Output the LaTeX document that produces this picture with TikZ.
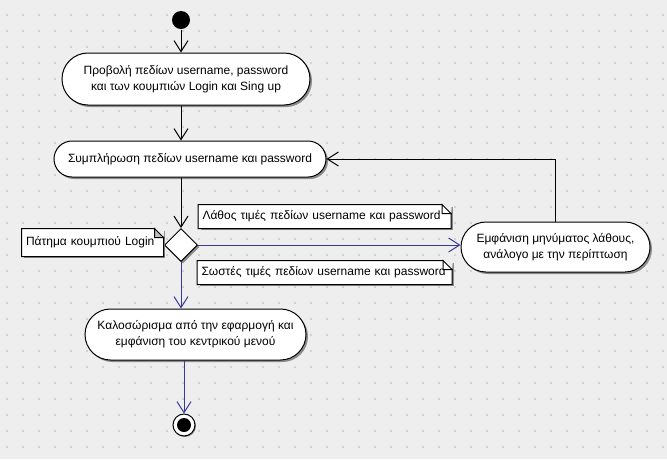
\documentclass[tikz,border=0pt]{standalone}
\usepackage{fontspec}
\setmainfont{Liberation Sans}
\usetikzlibrary{shapes.geometric,shapes.misc,arrows.meta,shadows}
\definecolor{flowblue}{RGB}{58,58,150}
\definecolor{canvas}{RGB}{238,238,238}
\definecolor{dotgray}{RGB}{210,210,210}
\def\breite{667}
\def\hoehe{459}
% outline of a note with folded corner
\newcommand\foldnote[2][white]{%
\draw[line width=1pt] (#2.north west) -- ([xshift=-9pt]#2.north east) -- ([yshift=-9pt]#2.north east) -- (#2.south east) -- (#2.south west) -- cycle;
\fill[canvas] ([xshift=-9pt]#2.north east) -- ([shift={(1pt,1pt)}]#2.north east) -- ([yshift=-9pt]#2.north east) -- cycle;
\draw[line width=1pt, fill=#1] ([xshift=-9pt]#2.north east) |- ([yshift=-9pt]#2.north east) -- cycle;}

\begin{document}
\begin{tikzpicture}[x=1pt, y=-1pt, line width=1pt, font=\fontsize{12}{16}\selectfont,
  activity/.style={rounded rectangle, draw, fill=white, align=center, inner sep=0pt,
    drop shadow={shadow xshift=2pt, shadow yshift=-2pt, fill=black!45, opacity=1}},
  decision/.style={diamond, aspect=1, draw, fill=white, minimum size=33pt, inner sep=0pt,
    drop shadow={shadow xshift=2pt, shadow yshift=-2pt, fill=black!45, opacity=1}},
  notebox/.style={fill=white, align=left, inner xsep=4pt, inner ysep=0pt, minimum height=23pt,
    drop shadow={shadow xshift=2pt, shadow yshift=-2pt, fill=black!45, opacity=1}},
  flow/.style={-{Straight Barb[length=11pt,width=14pt,line width=1pt]}},
  okflow/.style={flow, draw=flowblue}]
\useasboundingbox (0,0) rectangle (\breite,\hoehe);
\fill[canvas] (0,0) rectangle (\breite,\hoehe);
%\draw[step=16pt, dotgray] (0,0) grid (\breite,\hoehe);
\foreach \i in {0,...,41}
  \foreach \j in {0,...,27}
    \fill[dotgray] (6+16*\i,14+16*\j) rectangle +(2,2);

\node[circle, fill=black, minimum size=18pt, inner sep=0pt] (start) at (181,20) {};
\node[activity, minimum width=248pt, minimum height=52pt] (show) at (186,79)
  {Προβολή πεδίων username, password\\και των κουμπιών Login και Sing up};
\node[activity, minimum width=272pt, minimum height=36pt] (fill) at (190,159)
  {Συμπλήρωση πεδίων username και password};
\node[decision] (choice) at (181,245) {};
\node[activity, minimum width=189pt, minimum height=50pt] (error) at (555.5,247)
  {Εμφάνιση μηνύματος λάθους,\\ανάλογο με την περίπτωση};
\node[activity, minimum width=221pt, minimum height=51pt] (welcome) at (195.5,334.5)
  {Καλοσώρισμα από την εφαρμογή και\\εμφάνιση του κεντρικού μενού};
\node[circle, draw, fill=white, minimum size=22pt, inner sep=0pt,
  drop shadow={shadow xshift=1pt, shadow yshift=-1pt, fill=black!45, opacity=1}] (stop) at (184,425) {};
\node[circle, fill=black, minimum size=14pt, inner sep=0pt] (stopdot) at (stop) {};

% notes
\node[notebox, minimum height=27pt, text width=133pt] (login) at (92.5,242.5) {Πάτημα κουμπιού Login};
\foldnote[black!25]{login}
\node[notebox, text width=244pt] (wrong) at (324.5,216.5) {Λάθος τιμές πεδίων username και password};
\foldnote{wrong}
\node[notebox, text width=246pt] (right) at (324.5,272.5) {Σωστές τιμές πεδίων username και password};
\foldnote{right}

% transitions
\draw[flow] (start) -- (start |- show.north);
\draw[flow] (start |- show.south) -- (start |- fill.north);
\draw[flow] (start |- fill.south) -- (choice.north);
\draw[flow] (error.north) |- (fill.east);
\draw[okflow] (choice.east) -- (choice.east -| error.west);
\draw[okflow] (choice.south) -- (choice |- welcome.north);
\draw[okflow] (stop |- welcome.south) -- (stop.north);
\end{tikzpicture}
\end{document}
